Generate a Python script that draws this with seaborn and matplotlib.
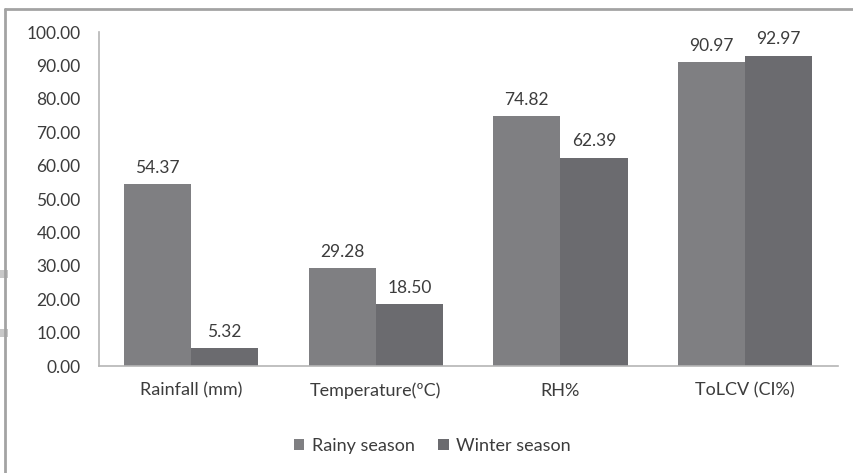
import matplotlib
matplotlib.use("Agg")
import matplotlib.pyplot as plt
from matplotlib.lines import Line2D
from matplotlib.patches import Rectangle
import seaborn as sns
import pandas as pd

categories = ["Rainfall (mm)", "Temperature(ºC)", "RH%", "ToLCV (CI%)"]
seasons = ["Rainy season", "Winter season"]
rainy_values = [54.37, 29.28, 74.82, 90.97]
winter_values = [5.32, 18.50, 62.39, 92.97]
y_ticks = [0, 10, 20, 30, 40, 50, 60, 70, 80, 90, 100]

df = pd.DataFrame({
    "category": categories * 2,
    "season": [seasons[0]] * len(categories) + [seasons[1]] * len(categories),
    "value": rainy_values + winter_values,
})

sns.set_theme(style="white")
plt.rcParams["font.family"] = ["Lato", "DejaVu Sans"]
text_color = "#3c3c3c"
axis_color = "#b5b5b5"
palette = {"Rainy season": "#7f7f82", "Winter season": "#6b6b6f"}

fig = plt.figure(figsize=(8.54, 4.73), dpi=100)
ax = fig.add_axes([0.1156, 0.2262, 0.9807 - 0.1156, 0.9323 - 0.2262])

sns.barplot(data=df, x="category", y="value", hue="season", order=categories,
            hue_order=seasons, palette=palette, width=0.728, saturation=1,
            edgecolor="none", linewidth=0, ax=ax, legend=True)

for container in ax.containers:
    ax.bar_label(container, fmt="%.2f", padding=6, fontsize=12.5, color=text_color)

ax.set_ylim(0, 100)
ax.set_yticks(y_ticks)
ax.set_yticklabels([f"{t:.2f}" for t in y_ticks])
ax.set_xlim(-0.5, len(categories) - 0.5)
ax.set_xlabel("")
ax.set_ylabel("")
ax.tick_params(axis="both", length=0, colors=text_color)
ax.tick_params(axis="y", pad=13, labelsize=12.5)
ax.tick_params(axis="x", pad=12, labelsize=13)

for side in ["top", "right"]:
    ax.spines[side].set_visible(False)
for side in ["left", "bottom"]:
    ax.spines[side].set_color(axis_color)
    ax.spines[side].set_linewidth(1.2)

handles, labels = ax.get_legend_handles_labels()
ax.legend_.remove()
fig.legend(handles, labels, loc="center", bbox_to_anchor=(0.506, 0.057),
           ncol=2, frameon=False, fontsize=13, handlelength=0.6,
           handleheight=0.6, handletextpad=0.4, columnspacing=1.3,
           labelcolor=text_color)

# outer chart frame
frame_color = "#a3a3a3"
fig.add_artist(Line2D([5 / 854, 5 / 854], [0, 1 - 9 / 473],
                      transform=fig.transFigure, color=frame_color, lw=2))
fig.add_artist(Line2D([5 / 854, 1], [1 - 9 / 473, 1 - 9 / 473],
                      transform=fig.transFigure, color=frame_color, lw=2))

# small marks at the left edge
for yc in (274, 333):
    fig.add_artist(Rectangle((0, 1 - (yc + 4) / 473), 8 / 854, 8 / 473,
                             transform=fig.transFigure, color="#c8c8c8", lw=0))

fig.savefig("out.png", dpi=100)
